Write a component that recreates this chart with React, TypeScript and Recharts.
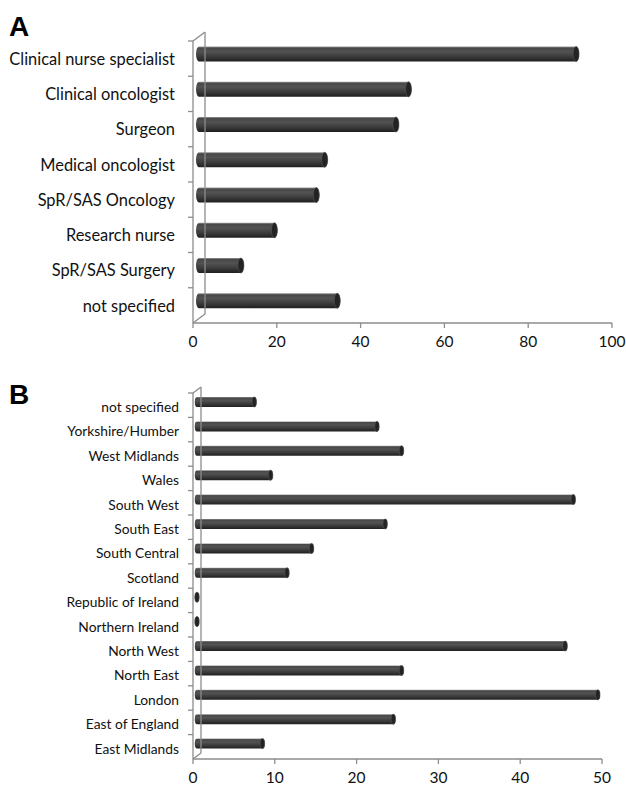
import React from 'react';
import { BarChart, Bar, XAxis, YAxis, ReferenceLine } from 'recharts';

const staffRoles = [
  'Clinical nurse specialist',
  'Clinical oncologist',
  'Surgeon',
  'Medical oncologist',
  'SpR/SAS Oncology',
  'Research nurse',
  'SpR/SAS Surgery',
  'not specified',
];
const staffCounts = [90, 50, 47, 30, 28, 18, 10, 33];
const staffTicks = [0, 20, 40, 60, 80, 100];

const regions = [
  'not specified',
  'Yorkshire/Humber',
  'West Midlands',
  'Wales',
  'South West',
  'South East',
  'South Central',
  'Scotland',
  'Republic of Ireland',
  'Northern Ireland',
  'North West',
  'North East',
  'London',
  'East of England',
  'East Midlands',
];
const regionCounts = [7, 22, 25, 9, 46, 23, 14, 11, 0, 0, 45, 25, 49, 24, 8];
const regionTicks = [0, 10, 20, 30, 40, 50];

const dataA = staffRoles.map((name, i) => ({ name, value: staffCounts[i] }));
const dataB = regions.map((name, i) => ({ name, value: regionCounts[i] }));

const FONT = 'Lato, "Open Sans", sans-serif';
const AXIS = '#8c8c8c';

// cylinder bar, pushed back by half the depth of the 3D frame
const Cylinder = (props: any) => {
  const { x, y, width, height, dx, dy, capRx } = props;
  const x0 = x + dx;
  const y0 = y + dy;
  const w = Math.max(0, width);
  const h = height;
  const r = h / 2;
  const body = `M ${x0} ${y0} L ${x0 + w} ${y0} A ${capRx} ${r} 0 0 1 ${x0 + w} ${y0 + h} L ${x0} ${y0 + h} A ${capRx} ${r} 0 0 1 ${x0} ${y0} Z`;
  return (
    <g>
      <defs>
        <linearGradient id="cyl" x1="0" y1="0" x2="0" y2="1">
          <stop offset="0" stopColor="#9a9a9a" />
          <stop offset="0.1" stopColor="#484848" />
          <stop offset="0.35" stopColor="#525252" />
          <stop offset="0.7" stopColor="#393939" />
          <stop offset="1" stopColor="#1f1f1f" />
        </linearGradient>
      </defs>
      <path d={body} fill="url(#cyl)" />
      <ellipse cx={x0 + w} cy={y0 + r} rx={capRx} ry={r} fill="#232323" stroke="#555" strokeWidth={0.6} />
    </g>
  );
};

// 3D frame: back wall line plus the two depth connectors
const wall = (dx: number, dy: number) => (p: any) => {
  const { x1, y1, x2, y2 } = p;
  return (
    <g stroke={AXIS} strokeWidth={1.3} fill="none">
      <line x1={x1 + dx} y1={y1 + dy} x2={x2 + dx} y2={y2 + dy} />
      <line x1={x1} y1={y1} x2={x1 + dx} y2={y1 + dy} />
      <line x1={x2} y1={y2} x2={x2 + dx} y2={y2 + dy} />
    </g>
  );
};

const CatTick = (props: any) => {
  const { x, y, payload, band, gap, fontSize, shift } = props;
  return (
    <g>
      <line x1={x - 5} x2={x} y1={y - band / 2} y2={y - band / 2} stroke={AXIS} strokeWidth={1.3} />
      <text x={x - gap} y={y + shift} dy="0.35em" textAnchor="end" fontSize={fontSize} fontFamily={FONT} fill="#111">
        {payload.value}
      </text>
    </g>
  );
};

const Panel = (props: any) => {
  const { data, ticks, max, height, top, bottomAxis, right, dx, dy, barSize, capRx, labelSize, gap, shift } = props;
  const band = (height - top - bottomAxis) / data.length;
  return (
    <BarChart
      width={626}
      height={height}
      data={data}
      layout="vertical"
      margin={{ top, right, left: 0, bottom: 0 }}
      barCategoryGap={0}
    >
      <XAxis
        type="number"
        domain={[0, max]}
        ticks={ticks}
        height={bottomAxis}
        axisLine={{ stroke: AXIS, strokeWidth: 1.3 }}
        tickLine={{ stroke: AXIS, strokeWidth: 1.3 }}
        tickSize={5}
        tickMargin={8}
        tick={{ fontSize: 15.5, fontFamily: FONT, fill: '#111' }}
        interval={0}
      />
      <YAxis
        type="category"
        dataKey="name"
        width={193}
        axisLine={{ stroke: AXIS, strokeWidth: 1.3 }}
        tickLine={false}
        tickSize={0}
        tickMargin={0}
        interval={0}
        tick={<CatTick band={band} gap={gap} fontSize={labelSize} shift={shift} />}
      />
      <ReferenceLine x={0} shape={wall(dx * 2, dy * 2)} />
      <Bar
        dataKey="value"
        barSize={barSize}
        isAnimationActive={false}
        shape={(p: any) => <Cylinder {...p} dx={dx} dy={dy} capRx={capRx} />}
      />
    </BarChart>
  );
};

const letter: React.CSSProperties = {
  position: 'absolute',
  left: 9,
  fontFamily: '"Liberation Sans", Arial, sans-serif',
  fontWeight: 'bold',
  fontSize: 28,
  lineHeight: '28px',
  color: '#000',
};

export default function App() {
  return (
    <div style={{ position: 'absolute', left: 0, top: 0, width: 626, height: 785, background: '#fff' }}>
      <div style={{ ...letter, top: 13 }}>A</div>
      <div style={{ ...letter, top: 381 }}>B</div>
      <div style={{ position: 'absolute', left: 0, top: 0 }}>
        <Panel
          data={dataA}
          ticks={staffTicks}
          max={100}
          height={360}
          top={41}
          bottomAxis={37}
          right={14}
          dx={6}
          dy={-4.5}
          barSize={15}
          capRx={3}
          labelSize={16.4}
          gap={18}
          shift={0.5}
        />
      </div>
      <div style={{ position: 'absolute', left: 0, top: 360 }}>
        <Panel
          data={dataB}
          ticks={regionTicks}
          max={50}
          height={425}
          top={33}
          bottomAxis={26}
          right={24}
          dx={4}
          dy={-3}
          barSize={10}
          capRx={2.2}
          labelSize={13.8}
          gap={14}
          shift={2}
        />
      </div>
    </div>
  );
}
